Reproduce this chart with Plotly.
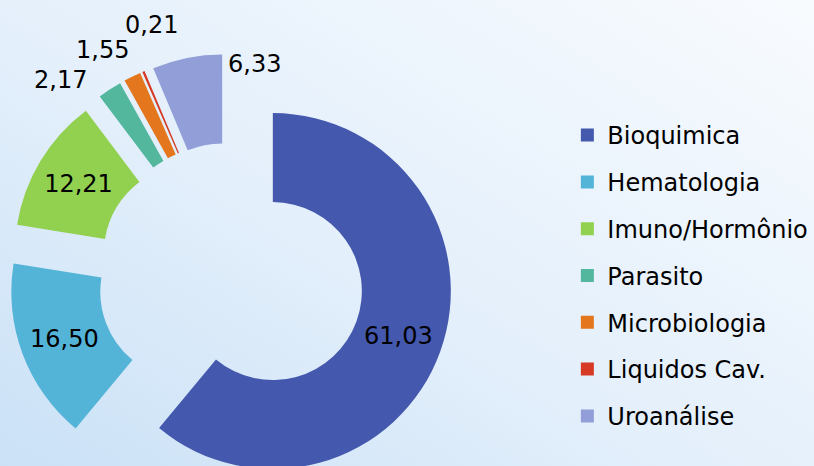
import base64
import plotly.graph_objects as go

# ---- data ----
labels = ["Bioquimica", "Hematologia", "Imuno/Hormônio", "Parasito",
          "Microbiologia", "Liquidos Cav.", "Uroanálise"]
values = [61.03, 16.50, 12.21, 2.17, 1.55, 0.21, 6.33]
colors = ["#4458AE", "#54B4D8", "#92D050", "#53B79D",
          "#E4761D", "#D63A24", "#929ED8"]
# slices whose value is written inside the ring; others get a free label
inside_label = [True, True, True, False, False, False, False]
# pixel centres (from top-left) of the free labels, in slice order
free_label_px = {3: (61, 80), 4: (102, 50), 5: (151, 25), 6: (254, 64)}

FONT = "'DejaVu Sans', sans-serif"
W, H = 814, 500


def fmt(v):
    return f"{v:.2f}".replace(".", ",")


fig = go.Figure()

fig.add_trace(go.Pie(
    labels=labels,
    values=values,
    sort=False,
    direction="clockwise",
    rotation=0,
    hole=0.5,
    pull=0.25,
    marker=dict(colors=colors, line=dict(width=0)),
    texttemplate=["%{value:.2f}" if f else "" for f in inside_label],
    textposition=["inside" if f else "none" for f in inside_label],
    insidetextorientation="horizontal",
    textfont=dict(family=FONT, size=24, color="black"),
    domain=dict(x=[0.0104, 0.5571], y=[0.003, 0.893]),
    showlegend=False,
))

# legend entries (square swatches)
for lab, col in zip(labels, colors):
    fig.add_trace(go.Scatter(
        x=[None], y=[None], mode="markers", name=lab, legendgroup=lab,
        marker=dict(symbol="square", size=13, color=col),
        showlegend=True, hoverinfo="skip",
    ))

annotations = []
for i, (px, py) in free_label_px.items():
    annotations.append(dict(
        text=fmt(values[i]), xref="paper", yref="paper",
        x=px / W, y=(H - py) / H, xanchor="center", yanchor="middle",
        showarrow=False, font=dict(family=FONT, size=24, color="black"),
    ))

svg = ("<svg xmlns='http://www.w3.org/2000/svg' width='814' height='500' preserveAspectRatio='none'>"
       "<defs><linearGradient id='g' x1='0' y1='1' x2='1' y2='0'>"
       "<stop offset='0' stop-color='#c8e0f6'/>"
       "<stop offset='0.45' stop-color='#e3effb'/>"
       "<stop offset='1' stop-color='#f8fbfe'/>"
       "</linearGradient></defs>"
       "<rect width='814' height='500' fill='url(#g)'/></svg>")
bg_uri = "data:image/svg+xml;base64," + base64.b64encode(svg.encode()).decode()

fig.update_layout(
    width=W, height=H,
    autosize=False,
    margin=dict(l=0, r=0, t=0, b=0, autoexpand=False),
    paper_bgcolor="#e8f2fb",
    plot_bgcolor="rgba(0,0,0,0)",
    separators=",.",
    font=dict(family=FONT, color="black"),
    xaxis=dict(visible=False),
    yaxis=dict(visible=False),
    legend=dict(
        x=0.697, y=0.774, xanchor="left", yanchor="top",
        font=dict(family=FONT, size=24, color="black"),
        tracegroupgap=12.6,
        itemwidth=30,
        bgcolor="rgba(0,0,0,0)",
    ),
    annotations=annotations,
    images=[dict(source=bg_uri, xref="paper", yref="paper", x=0, y=1,
                 sizex=1, sizey=1, sizing="stretch", layer="below",
                 xanchor="left", yanchor="top")],
)

post = ("document.documentElement.style.margin='0';"
        "document.body.style.margin='0';"
        "document.documentElement.style.overflow='hidden';"
        "document.body.style.overflow='hidden';")

fig.write_html("out.html", post_script=post,
               config={"displayModeBar": False})
